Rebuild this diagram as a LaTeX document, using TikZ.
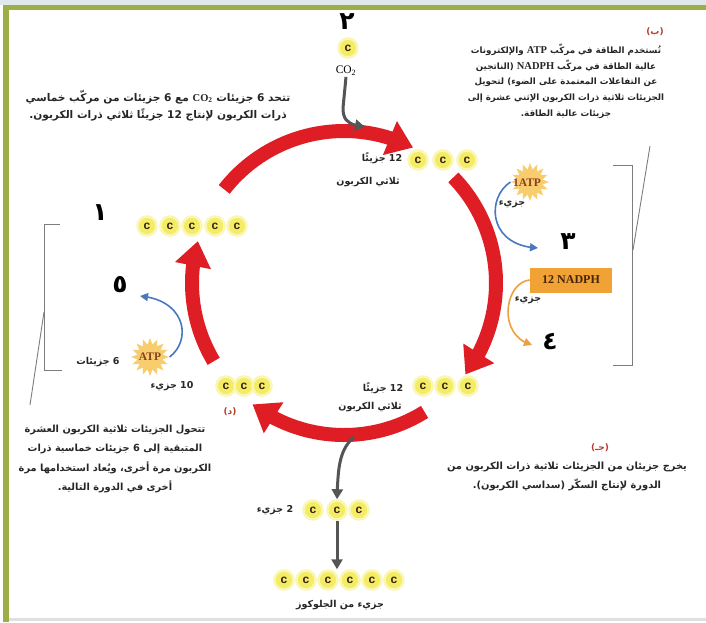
\documentclass[tikz,border=0pt]{standalone}
\usepackage{fontspec}
\setmainfont{Liberation Serif}
\newfontfamily\arabicfont[Script=Arabic]{DejaVu Sans}
\newfontfamily\cfont{Liberation Sans}
\TeXXeTstate=1
\usetikzlibrary{arrows.meta,bending,shapes.geometric,calc}
\definecolor{cycred}{RGB}{222,30,36}
\definecolor{framegreen}{RGB}{155,175,70}
\definecolor{molfill}{RGB}{244,236,100}
\definecolor{molglow}{RGB}{250,246,180}
\definecolor{cdark}{RGB}{50,35,25}
\definecolor{bluearr}{RGB}{74,120,190}
\definecolor{orangearr}{RGB}{236,160,64}
\definecolor{nadphfill}{RGB}{240,162,52}
\definecolor{nadphtext}{RGB}{70,35,10}
\definecolor{labred}{RGB}{185,60,45}
\definecolor{greyarr}{RGB}{85,85,85}
\definecolor{brk}{RGB}{125,125,125}
\definecolor{starfill}{RGB}{247,205,110}
\definecolor{atptext}{RGB}{140,60,30}
\definecolor{topstrip}{RGB}{225,232,236}
\newcommand\ltrpart[1]{\beginL#1\endL{}}
\newcommand\serifb[1]{{\rmfamily\bfseries\fontsize{10.5}{10.5}\selectfont #1}}
\newcommand\arsize[1]{\fontsize{#1}{#1}\selectfont}
\begin{document}
\begin{tikzpicture}[x=1pt,y=-1pt,
  mol/.style={circle, fill=molfill, draw=molglow, line width=2.5pt, minimum size=19pt, inner sep=0pt,
    font=\cfont\bfseries\fontsize{12}{12}\selectfont, text=cdark},
  artext/.style={font=\arabicfont\bfseries\fontsize{9.5}{11}\selectfont, inner sep=0pt, text=black!85},
  smallar/.style={font=\arabicfont\bfseries\fontsize{9.5}{10}\selectfont, inner sep=0pt, text=black!85},
  bignum/.style={font=\arabicfont\bfseries\fontsize{25}{25}\selectfont, inner sep=0pt},
  letterlab/.style={font=\arabicfont\bfseries\fontsize{9}{10}\selectfont, inner sep=0pt, text=labred},
  cyc/.style={draw=cycred, line width=14pt, -{Triangle[width=35pt,length=25pt]}},
  greyline/.style={draw=greyarr, line width=3pt, -{Triangle[width=11pt,length=10pt]}},
  bluel/.style={draw=bluearr, line width=1.6pt, -{Triangle[width=8pt,length=8pt]}},
  orangel/.style={draw=orangearr, line width=1.6pt, -{Triangle[width=8pt,length=8pt]}},
  bracket/.style={draw=brk, line width=0.9pt},
  atpstar/.style={star, star points=16, star point ratio=1.5, fill=starfill, minimum size=38pt, inner sep=0pt}
]
\useasboundingbox (0,0) rectangle (706,622);
% background and frame
\fill[white] (0,0) rectangle (706,622);
\fill[topstrip] (0,0) rectangle (706,5);
\fill[framegreen] (4,5) rectangle (706,10);
\fill[framegreen] (3,5) rectangle (9,622);
\fill[black!12] (9,618) rectangle (706,621);

% cycle arrows
\coordinate (cc) at (344,283);
\draw[cyc] ($(cc)+(142:152pt)$) arc[start angle=142, end angle=63, radius=152pt];
\draw[cyc] ($(cc)+(44:152pt)$) arc[start angle=44, end angle=-37, radius=152pt];
\draw[cyc] ($(cc)+(-58:152pt)$) arc[start angle=-58, end angle=-127, radius=152pt];
\draw[cyc] ($(cc)+(211:152pt)$) arc[start angle=211, end angle=164, radius=152pt];

% CO2 input
\node[bignum] (n2) at (347,22) {٢};
\node[mol] (co2c) at (348,48) {c};
\node[font=\rmfamily\fontsize{11.5}{11.5}\selectfont, inner sep=1pt] (co2) at (346,71) {CO\textsubscript{2}};
\coordinate (co2tip) at (365,127);
\draw[greyline] (co2.south) -- (343,108) .. controls (343,122) and (350,125) .. (co2tip);

% top molecules
\node[mol] (t1) at (418,160) {c};
\node[mol] (t2) at (443,160) {c};
\node[mol] (t3) at (467,160) {c};
\node[smallar] (tlab1) at (382,158) {\beginR\ltrpart{12} جزيئًا\endR};
\node[smallar] (tlab2) at (368,182) {\beginR ثلاثي الكربون\endR};

% left molecules
\node[bignum] (n1) at (100,213) {١};
\node[mol] (l1) at (147,226) {c};
\node[mol] (l2) at (170,226) {c};
\node[mol] (l3) at (192,226) {c};
\node[mol] (l4) at (215,226) {c};
\node[mol] (l5) at (237,226) {c};

% left ATP
\node[bignum] (n5) at (120,285) {٥};
\node[atpstar] (atpL) at (150,357) {};
\node[font=\rmfamily\bfseries\fontsize{11.5}{11.5}\selectfont, text=atptext] at (atpL) {ATP};
\node[smallar] (atpLlab) at (98,362) {\beginR\ltrpart{6} جزيئات\endR};
\coordinate (n5tip) at (140,296);
\draw[bluel] (atpL.east) .. controls (192,340) and (186,300) .. (n5tip);

% bottom left molecules
\node[mol] (bl1) at (226,386) {c};
\node[mol] (bl2) at (244,386) {c};
\node[mol] (bl3) at (262,386) {c};
\node[smallar] (bllab) at (172,386) {\beginR\ltrpart{10} جزيء\endR};
\node[letterlab] (labd) at (230,412) {(د)};

% right side ATP / NADPH
\node[atpstar] (atpR) at (530,182) {};
\node[font=\rmfamily\bfseries\fontsize{11.5}{11.5}\selectfont, text=atptext] at (527,183) {1ATP};
\node[smallar] (atpRlab) at (512,204) {\beginR جزيء\endR};
\coordinate (n3tip) at (538,248);
\draw[bluel] (atpR.west) .. controls (486,198) and (488,246) .. (n3tip);
\node[bignum] (n3) at (568,242) {٣};
\node[fill=nadphfill, minimum width=82pt, minimum height=25pt, inner sep=0pt,
  font=\rmfamily\bfseries\fontsize{12}{12}\selectfont, text=nadphtext] (nadph) at (571,280) {12 NADPH};
\node[smallar] (nadphlab) at (528,300) {\beginR جزيء\endR};
\coordinate (n4tip) at (532,345);
\draw[orangel] (nadph.west) .. controls (505,282) and (496,335) .. (n4tip);
\node[bignum] (n4) at (550,342) {٤};

% bottom right molecules
\node[mol] (br1) at (423,386) {c};
\node[mol] (br2) at (445,386) {c};
\node[mol] (br3) at (468,386) {c};
\node[smallar] (brlab1) at (383,388) {\beginR\ltrpart{12} جزيئًا\endR};
\node[smallar] (brlab2) at (370,407) {\beginR ثلاثي الكربون\endR};

% output
\coordinate (outsrc) at (354,437);
\node[mol] (o1) at (313,510) {c};
\node[mol] (o2) at (337,510) {c};
\node[mol] (o3) at (359,510) {c};
\node[smallar] (olab) at (275,510) {\beginR\ltrpart{2} جزيء\endR};
\draw[greyline] (outsrc) .. controls (339,450) and (338,468) .. (o2.north);
\node[mol] (g1) at (284,580) {c};
\node[mol] (g2) at (306,580) {c};
\node[mol] (g3) at (328,580) {c};
\node[mol] (g4) at (350,580) {c};
\node[mol] (g5) at (372,580) {c};
\node[mol] (g6) at (394,580) {c};
\node[smallar] (glab) at (340,605) {\beginR جزيء من الجلوكوز\endR};
\draw[greyline] (o2.south) -- (o2.south |- g3.north);

% brackets
\draw[bracket] (60,224) -- (44,224) -- (44,370) -- (62,370);
\draw[bracket] (44,312) -- (30,405);
\draw[bracket] (613,165) -- (632,165) -- (632,365) -- (613,365);
\draw[bracket] (633,250) -- (650,146);

% top left paragraph
\node[artext, font=\arabicfont\bfseries\arsize{10.6}] (tl1) at (158,97) {\beginR تتحد \ltrpart{6} جزيئات \ltrpart{\serifb{CO\textsubscript{2}}} مع \ltrpart{6} جزيئات من مركّب خماسي\endR};
\node[artext, font=\arabicfont\bfseries\arsize{10.6}] (tl2) at (158,115) {\beginR ذرات الكربون لإنتاج \ltrpart{12} جزيئًا ثلاثي ذرات الكربون.\endR};

% top right paragraph
\node[letterlab] (labb) at (655,32) {(ب)};
\node[artext, font=\arabicfont\bfseries\arsize{8.7}] (tr1) at (566,50) {\beginR تُستخدم الطاقة في مركّب \ltrpart{\serifb{ATP}} والإلكترونات\endR};
\node[artext, font=\arabicfont\bfseries\arsize{8.7}] (tr2) at (566,66) {\beginR عالية الطاقة في مركّب \ltrpart{\serifb{NADPH}} (الناتجين\endR};
\node[artext, font=\arabicfont\bfseries\arsize{8.7}] (tr3) at (566,82) {\beginR عن التفاعلات المعتمدة على الضوء) لتحويل\endR};
\node[artext, font=\arabicfont\bfseries\arsize{8.7}] (tr4) at (566,98) {\beginR الجزيئات ثلاثية ذرات الكربون الإثني عشرة إلى\endR};
\node[artext, font=\arabicfont\bfseries\arsize{8.7}] (tr5) at (566,114) {\beginR جزيئات عالية الطاقة.\endR};

% bottom left paragraph
\node[artext, font=\arabicfont\bfseries\arsize{9.8}] (bp1) at (115,430) {\beginR تتحول الجزيئات ثلاثية الكربون العشرة\endR};
\node[artext, font=\arabicfont\bfseries\arsize{9.8}] (bp2) at (115,449) {\beginR المتبقية إلى \ltrpart{6} جزيئات خماسية ذرات\endR};
\node[artext, font=\arabicfont\bfseries\arsize{9.8}] (bp3) at (115,468) {\beginR الكربون مرة أخرى، ويُعاد استخدامها مرة\endR};
\node[artext, font=\arabicfont\bfseries\arsize{9.8}] (bp4) at (115,487) {\beginR أخرى في الدورة التالية.\endR};

% bottom right paragraph
\node[letterlab] (labj) at (600,448) {(جـ)};
\node[artext, font=\arabicfont\bfseries\arsize{9.9}] (rp1) at (567,467) {\beginR يخرج جزيئان من الجزيئات ثلاثية ذرات الكربون من\endR};
\node[artext, font=\arabicfont\bfseries\arsize{9.9}] (rp2) at (567,485) {\beginR الدورة لإنتاج السكّر (سداسي الكربون).\endR};
\end{tikzpicture}
\end{document}
